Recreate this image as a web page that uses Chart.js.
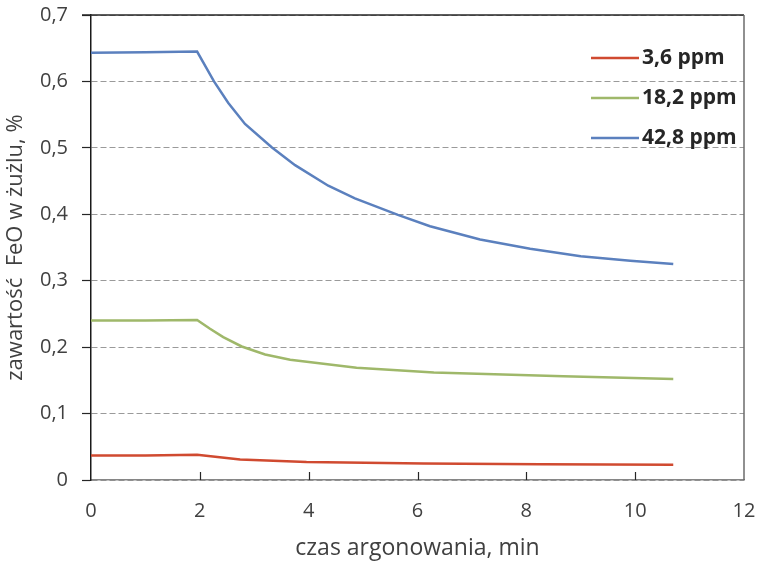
<!DOCTYPE html>
<html>
<head>
<meta charset="utf-8">
<script src="https://cdn.jsdelivr.net/npm/chart.js@4.4.0/dist/chart.umd.min.js"></script>
<style>
  html, body { margin: 0; background: #fff; }
  #wrap { width: 758px; height: 562px; }
</style>
</head>
<body>
<div id="wrap"><canvas id="chart"></canvas></div>
<script>
// FeO content in slag during argon stirring, three initial levels
const seriesLabels = ['3,6 ppm', '18,2 ppm', '42,8 ppm'];
const seriesColors = ['#D04A30', '#9FB86A', '#5B80BE'];

const timeLow  = [0, 1, 1.95, 2.74, 3.96, 6.11, 8.26, 10.7];
const feoLow   = [0.037, 0.037, 0.038, 0.031, 0.027, 0.025, 0.0236, 0.023];

const timeMid  = [0, 1, 1.95, 2.18, 2.43, 2.77, 3.2, 3.66, 4.88, 6.3, 8.68, 10.7];
const feoMid   = [0.240, 0.240, 0.241, 0.228, 0.215, 0.201, 0.189, 0.181, 0.169, 0.162, 0.156, 0.152];

const timeHigh = [0, 1, 1.95, 2.26, 2.52, 2.83, 3.32, 3.75, 4.36, 4.85, 5.64, 6.23, 7.15, 8.07, 9.0, 9.91, 10.7];
const feoHigh  = [0.643, 0.644, 0.645, 0.600, 0.568, 0.536, 0.501, 0.474, 0.443, 0.424, 0.399, 0.382, 0.362, 0.348, 0.337, 0.330, 0.325];

const xTickLabels = ['0', '2', '4', '6', '8', '10', '12'];
const yTickLabels = ['0', '0,1', '0,2', '0,3', '0,4', '0,5', '0,6', '0,7'];

const xTitle = 'czas argonowania, min';
const yTitle = 'zawartość  FeO w żużlu, %';

const FONT = "'Open Sans', 'DejaVu Sans', sans-serif";
const TEXT = '#404040';

function points(xs, ys) {
  return xs.map((x, i) => ({ x: x, y: ys[i] }));
}

const datasets = [
  points(timeLow, feoLow),
  points(timeMid, feoMid),
  points(timeHigh, feoHigh),
].map((data, i) => ({
  label: seriesLabels[i],
  data: data,
  borderColor: seriesColors[i],
  backgroundColor: seriesColors[i],
  borderWidth: 2.5,
  pointRadius: 0,
  tension: 0,
  fill: false,
}));

// frame on top/right, inward ticks on the x axis, legend in the plot corner
const decorations = {
  id: 'decorations',
  afterDatasetsDraw(chart) {
    const { ctx, chartArea: a, scales } = chart;
    ctx.save();
    ctx.lineWidth = 1.5;

    ctx.strokeStyle = '#262626';
    ctx.beginPath();
    ctx.moveTo(a.left - 9, a.top);
    ctx.lineTo(a.right, a.top);
    ctx.stroke();

    ctx.strokeStyle = '#6b6b6b';
    ctx.beginPath();
    ctx.moveTo(a.right, a.top);
    ctx.lineTo(a.right, a.bottom);
    ctx.stroke();

    ctx.strokeStyle = '#262626';
    ctx.lineWidth = 1.2;
    scales.x.ticks.forEach(t => {
      if (t.value <= 0 || t.value >= 12) return;
      const px = Math.round(scales.x.getPixelForValue(t.value)) + 0.5;
      ctx.beginPath();
      ctx.moveTo(px, a.bottom);
      ctx.lineTo(px, a.bottom - 8);
      ctx.stroke();
    });

    ctx.font = "bold 21px " + FONT;
    ctx.textBaseline = 'middle';
    ctx.textAlign = 'left';
    chart.data.datasets.forEach((ds, i) => {
      const y = 58 + i * 40;
      ctx.strokeStyle = ds.borderColor;
      ctx.lineWidth = 2.5;
      ctx.beginPath();
      ctx.moveTo(591, y);
      ctx.lineTo(639, y);
      ctx.stroke();
      ctx.fillStyle = '#262626';
      ctx.fillText(ds.label, 642, y);
    });
    ctx.restore();
  }
};

new Chart(document.getElementById('chart'), {
  type: 'line',
  data: { datasets: datasets },
  plugins: [decorations],
  options: {
    responsive: true,
    maintainAspectRatio: false,
    animation: false,
    layout: { padding: { top: 15, right: 14, left: 0, bottom: 0 } },
    plugins: {
      legend: { display: false },
      tooltip: { enabled: false },
    },
    scales: {
      x: {
        type: 'linear',
        min: 0,
        max: 12,
        afterFit(scale) {
          scale.height = 82;
          scale.paddingLeft = 0;
          scale.paddingRight = 0;
        },
        afterBuildTicks(scale) {
          scale.ticks = xTickLabels.map(l => ({ value: Number(l) }));
        },
        ticks: {
          padding: 19,
          maxRotation: 0,
          color: TEXT,
          font: { family: FONT, size: 20 },
          callback: (v, i) => xTickLabels[i],
        },
        grid: { display: true, drawOnChartArea: false, drawTicks: false },
        border: { display: true, color: '#868686', width: 1.5 },
        title: {
          display: true,
          text: xTitle,
          color: TEXT,
          font: { family: FONT, size: 23 },
          padding: { top: 0, bottom: 0 },
        },
      },
      y: {
        min: 0,
        max: 0.7,
        afterFit(scale) {
          scale.width = 91;
          scale.paddingTop = 0;
          scale.paddingBottom = 0;
        },
        afterBuildTicks(scale) {
          scale.ticks = yTickLabels.map((l, i) => ({ value: i / 10 }));
        },
        ticks: {
          padding: 14,
          color: TEXT,
          font: { family: FONT, size: 20 },
          callback: (v, i) => yTickLabels[i],
        },
        grid: {
          color: '#9a9a9a',
          lineWidth: 1,
          tickBorderDash: [],
          tickColor: '#262626',
          tickLength: 9,
          tickWidth: 1.2,
        },
        border: { display: true, color: '#1a1a1a', width: 1.5, dash: [6, 3] },
        title: {
          display: true,
          text: yTitle,
          color: TEXT,
          font: { family: FONT, size: 22 },
          padding: { top: 3, bottom: 0 },
        },
      },
    },
  },
});
</script>
</body>
</html>
